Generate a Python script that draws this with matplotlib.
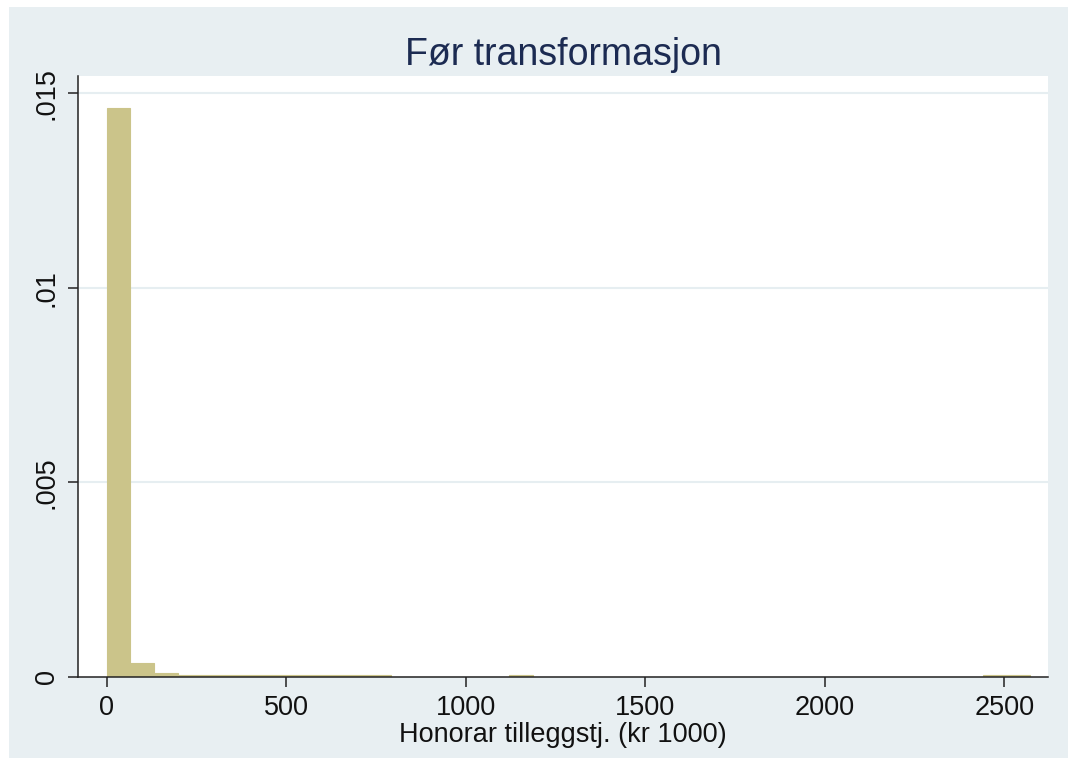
import numpy as np
import matplotlib
matplotlib.use('Agg')
import matplotlib.pyplot as plt
from matplotlib.patches import Rectangle

plt.rcParams['font.family'] = ['Liberation Sans', 'DejaVu Sans']

# histogram: 39 bins from 0 to ~2572 (kr 1000), density scale
bin_width = 65.95
n_bins = 39
densities = [0.0] * n_bins
densities[0] = 0.014615
densities[1] = 0.000352
densities[2] = 0.00011
for i in range(3, 12):
    densities[i] = 0.00004
densities[17] = 0.00004
densities[37] = 0.00004
densities[38] = 0.00004

bin_left = [i * bin_width for i in range(n_bins)]

yticks = [0, 0.005, 0.01, 0.015]
ytick_labels = ['0', '.005', '.01', '.015']
xticks = [0, 500, 1000, 1500, 2000, 2500]

W, H = 1068, 758
fig = plt.figure(figsize=(W / 100, H / 100), dpi=100)
fig.patch.set_facecolor('white')
# stata-like graph region (light bluish gray), white strip on top/left
fig.patches.append(Rectangle((9 / W, 0), 1 - 9 / W, (H - 7) / H,
                             transform=fig.transFigure, facecolor='#E8EFF2',
                             edgecolor='none', zorder=-10))

ax = fig.add_axes([78 / W, (H - 677) / H, (1048 - 78) / W, (677 - 76) / H])
ax.set_facecolor('white')

ax.bar(bin_left, densities, width=bin_width, align='edge',
       color='#CBC48A', edgecolor='#CBC48A', linewidth=0.8, zorder=1.5)

ax.set_xlim(-80, 2622)
ax.set_ylim(0, 0.015445)

for y in yticks[1:]:
    ax.axhline(y, color='#E6EEF1', linewidth=1.5, zorder=1)

for s in ['top', 'right']:
    ax.spines[s].set_visible(False)
for s in ['left', 'bottom']:
    ax.spines[s].set_color('#222222')
    ax.spines[s].set_linewidth(1.1)

ax.set_yticks(yticks)
ax.set_yticklabels(ytick_labels, rotation=90, va='center')
ax.set_xticks(xticks)
ax.set_xticklabels([str(x) for x in xticks])
ax.tick_params(axis='both', direction='out', length=7, width=1.1,
               color='#222222', labelsize=19.5, labelcolor='#111111')
ax.tick_params(axis='y', pad=6)
ax.tick_params(axis='x', pad=6)

ax.set_xlabel('Honorar tilleggstj. (kr 1000)', fontsize=19.5, color='#111111',
              labelpad=1)

fig.text(563 / W, (H - 65) / H, 'Før transformasjon', ha='center',
         va='baseline', fontsize=27, color='#1C2B52')

fig.savefig('out.png', dpi=100)
